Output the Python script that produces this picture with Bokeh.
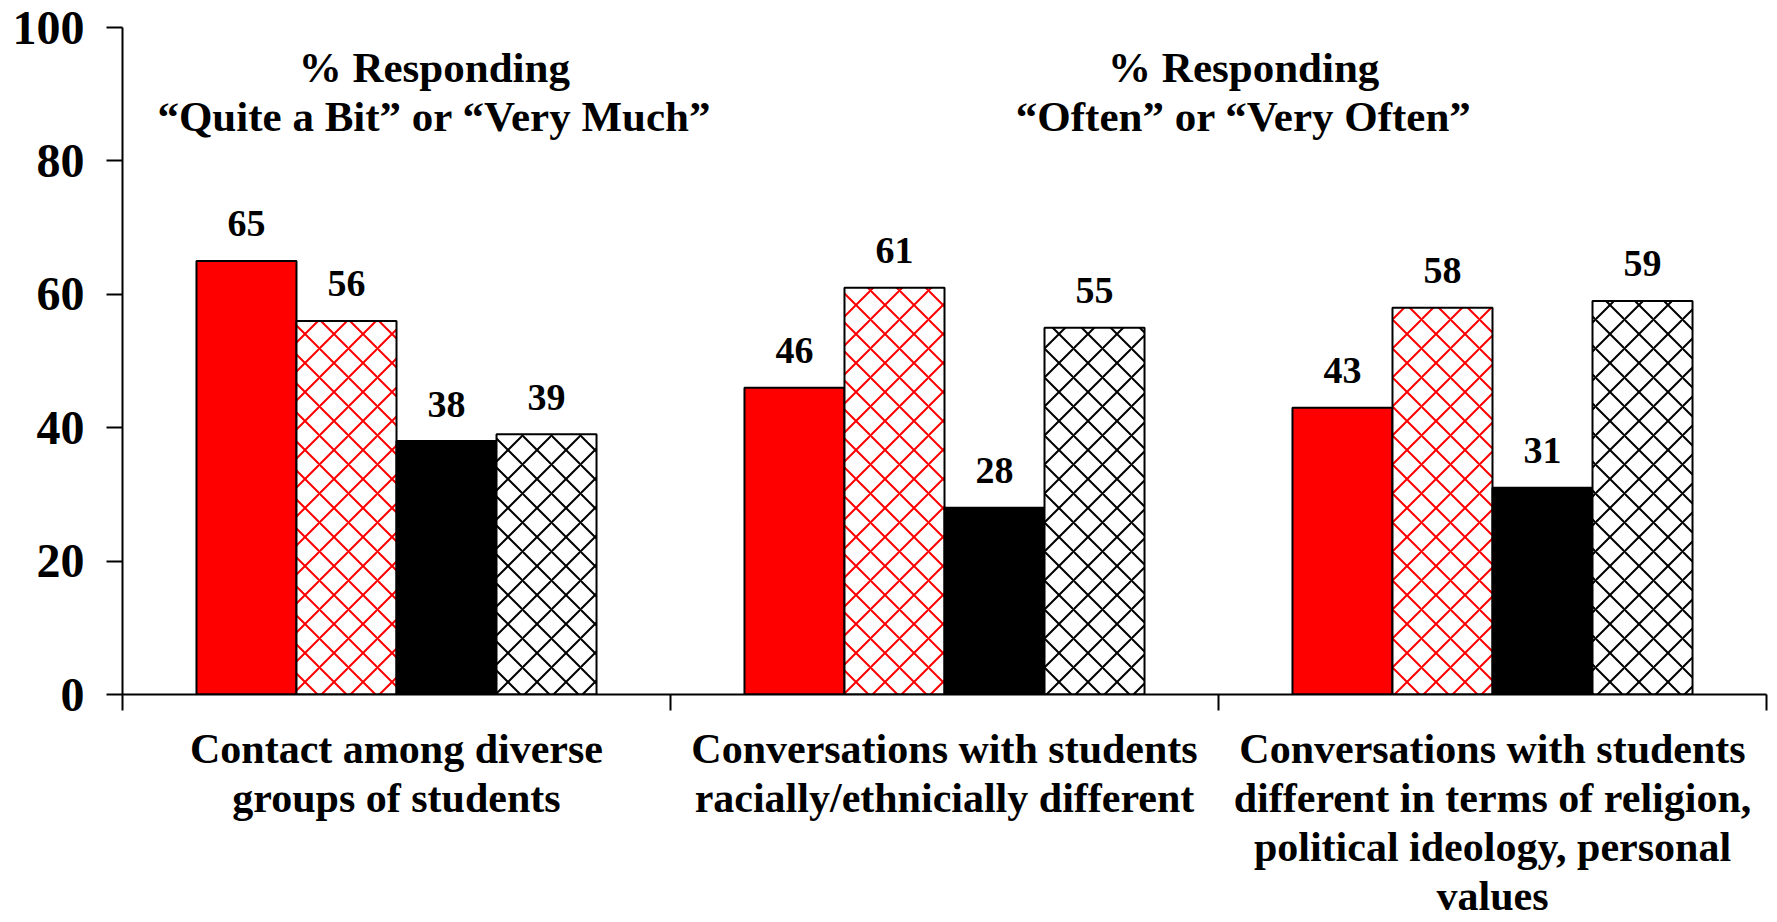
from bokeh.plotting import figure
from bokeh.models import Range1d, FixedTicker, ColumnDataSource, Label
from bokeh.transform import dodge
from bokeh.core.properties import value
from bokeh.embed import file_html
from bokeh.resources import INLINE

categories = [
    "Contact among diverse\ngroups of students",
    "Conversations with students\nracially/ethnicially different",
    "Conversations with students\ndifferent in terms of religion,\npolitical ideology, personal\nvalues",
]
series_1 = [65, 46, 43]   # solid red
series_2 = [56, 61, 58]   # red lattice
series_3 = [38, 28, 31]   # solid black
series_4 = [39, 55, 59]   # black lattice
y_ticks = [0, 20, 40, 60, 80, 100]
title_1 = ["% Responding", "\u201cQuite a Bit\u201d or \u201cVery Much\u201d"]
title_2 = ["% Responding", "\u201cOften\u201d or \u201cVery Often\u201d"]

FONT = "Liberation Serif"
n = len(categories)
centers = [i + 0.5 for i in range(n)]
bounds = list(range(n + 1))

src = ColumnDataSource(dict(x=centers, s1=series_1, s2=series_2, s3=series_3, s4=series_4,
                            t1=[str(v) for v in series_1], t2=[str(v) for v in series_2],
                            t3=[str(v) for v in series_3], t4=[str(v) for v in series_4]))

p = figure(width=1777, height=922, x_range=Range1d(0, n), y_range=Range1d(0, 100),
           output_backend="svg", toolbar_location=None,
           min_border_left=122, min_border_right=11, min_border_top=27, min_border_bottom=228)
p.outline_line_color = None
p.grid.visible = False
p.background_fill_color = "white"
p.border_fill_color = "white"

bw = 0.1825
styles = [
    dict(fill_color="#ff0000"),
    dict(fill_color="white", hatch_pattern="diagonal_cross", hatch_color="#ff0000", hatch_scale=29, hatch_weight=2),
    dict(fill_color="black"),
    dict(fill_color="white", hatch_pattern="diagonal_cross", hatch_color="black", hatch_scale=29, hatch_weight=2),
]
offsets = [-1.5 * bw, -0.5 * bw, 0.5 * bw, 1.5 * bw]
for k, (st, off) in enumerate(zip(styles, offsets), start=1):
    p.vbar(x=dodge("x", off, range=p.x_range), top=f"s{k}", width=bw, bottom=0, source=src,
           line_color="black", line_width=2, **st)
    p.text(x=dodge("x", off, range=p.x_range), y=f"s{k}", text=f"t{k}", source=src,
           text_font=value(FONT), text_font_style="bold", text_font_size="38px",
           text_align="center", text_baseline="alphabetic", y_offset=-37, text_color="black")

# titles
for lines, xc in ((title_1, 0.569), (title_2, 2.046)):
    for line, yv in zip(lines, (94.0, 86.7)):
        p.add_layout(Label(x=xc, y=yv, text=line, text_font=FONT, text_font_style="bold",
                           text_font_size="43px", text_align="center", text_baseline="middle",
                           text_color="black"))

# x axis
xa = p.xaxis[0]
xa.ticker = FixedTicker(ticks=centers, minor_ticks=bounds)
xa.major_label_overrides = {c: lab for c, lab in zip(centers, categories)}
xa.major_tick_line_color = None
xa.major_tick_out = 0
xa.major_tick_in = 0
xa.minor_tick_out = 16
xa.minor_tick_in = 0
xa.minor_tick_line_color = "black"
xa.minor_tick_line_width = 2
xa.axis_line_color = "black"
xa.axis_line_width = 2
xa.major_label_standoff = 15
xa.major_label_text_font = FONT
xa.major_label_text_font_style = "bold"
xa.major_label_text_font_size = "42px"
xa.major_label_text_color = "black"
xa.major_label_text_line_height = 1.07

# y axis
ya = p.yaxis[0]
ya.ticker = FixedTicker(ticks=y_ticks, minor_ticks=[])
ya.major_tick_out = 16
ya.major_tick_in = 0
ya.major_tick_line_width = 2
ya.major_tick_line_color = "black"
ya.minor_tick_line_color = None
ya.axis_line_width = 2
ya.axis_line_color = "black"
ya.major_label_standoff = 22
ya.major_label_text_font = FONT
ya.major_label_text_font_style = "bold"
ya.major_label_text_font_size = "48px"
ya.major_label_text_color = "black"

open("out.html", "w").write(file_html(p, INLINE))
